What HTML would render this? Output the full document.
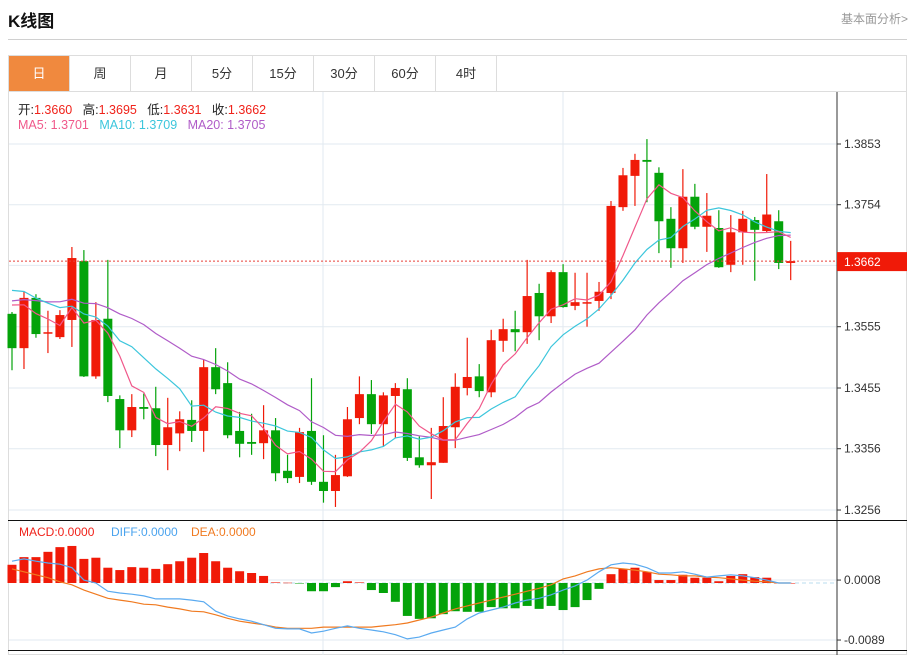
<!DOCTYPE html>
<html><head><meta charset="utf-8">
<style>
body{margin:0;width:920px;height:655px;overflow:hidden;background:#fff;font-family:"Liberation Sans","Noto Sans CJK SC",sans-serif;position:relative}
.title{position:absolute;left:8px;top:7px;font-size:17px;font-weight:bold;color:#111}
.more{position:absolute;right:12px;top:10px;font-size:12px;color:#999}
.hr{position:absolute;left:8px;top:39px;width:899px;height:1px;background:#d0d0d0}
.tabs{position:absolute;left:8px;top:55px;width:897px;height:35px;border:1px solid #ddd;display:flex}
.tab{width:60px;border-right:1px solid #ddd;text-align:center;line-height:35px;font-size:13px;color:#333}
.tab.on{background:#f0893e;color:#fff}
.info{position:absolute;left:18px;font-size:12.5px}
svg{position:absolute;left:0;top:0}
</style></head><body>
<div class="title">K线图</div>
<div class="more">基本面分析&gt;</div>
<div class="hr"></div>
<div class="tabs">
<div class="tab on">日</div>
<div class="tab">周</div>
<div class="tab">月</div>
<div class="tab">5分</div>
<div class="tab">15分</div>
<div class="tab">30分</div>
<div class="tab">60分</div>
<div class="tab">4时</div>
</div>
<svg id="chart" width="920" height="655"></svg>
<div class="info" style="top:99px"><span style="color:#222">开:</span><span style="color:#f0221a">1.3660</span>&nbsp;&nbsp; <span style="color:#222">高:</span><span style="color:#f0221a">1.3695</span>&nbsp;&nbsp; <span style="color:#222">低:</span><span style="color:#f0221a">1.3631</span>&nbsp;&nbsp; <span style="color:#222">收:</span><span style="color:#f0221a">1.3662</span></div>
<div class="info" style="top:118px"><span style="color:#f0588a">MA5: 1.3701</span>&nbsp;&nbsp; <span style="color:#3cc6dc">MA10: 1.3709</span>&nbsp;&nbsp; <span style="color:#b05cc8">MA20: 1.3705</span></div>
<script>
const opens=[1.3576,1.3520,1.3602,1.3545,1.3538,1.3566,1.3662,1.3474,1.3568,1.3437,1.3386,1.3424,1.3422,1.3362,1.3381,1.3403,1.3385,1.3489,1.3463,1.3385,1.3367,1.3365,1.3386,1.3320,1.3310,1.3385,1.3302,1.3287,1.3311,1.3406,1.3445,1.3396,1.3442,1.3453,1.3342,1.3329,1.3333,1.3391,1.3455,1.3474,1.3448,1.3532,1.3551,1.3546,1.3610,1.3572,1.3644,1.3589,1.3594,1.3597,1.3610,1.3750,1.3801,1.3827,1.3806,1.3731,1.3683,1.3767,1.3718,1.3716,1.3656,1.3709,1.3729,1.3711,1.3727,1.3659];
const highs=[1.3579,1.3612,1.3608,1.3581,1.3582,1.3685,1.3680,1.3595,1.3664,1.3443,1.3445,1.3446,1.3457,1.3439,1.3417,1.3435,1.3501,1.3520,1.3497,1.3416,1.3413,1.3427,1.3406,1.3346,1.3390,1.3471,1.3378,1.3346,1.3424,1.3474,1.3468,1.3448,1.3463,1.3471,1.3376,1.3390,1.3440,1.3479,1.3537,1.3494,1.3550,1.3568,1.3581,1.3664,1.3625,1.3647,1.3657,1.3643,1.3643,1.3628,1.3760,1.3814,1.3837,1.3861,1.3815,1.3750,1.3812,1.3788,1.3773,1.3745,1.3737,1.3744,1.3734,1.3804,1.3745,1.3695];
const lows=[1.3484,1.3486,1.3537,1.3512,1.3535,1.3522,1.3473,1.3470,1.3432,1.3357,1.3375,1.3404,1.3344,1.3321,1.3352,1.3367,1.3351,1.3445,1.3373,1.3342,1.3346,1.3339,1.3303,1.3300,1.3300,1.3297,1.3268,1.3261,1.3310,1.3396,1.3380,1.3359,1.3373,1.3336,1.3325,1.3274,1.3333,1.3357,1.3443,1.3440,1.3440,1.3514,1.3515,1.3527,1.3533,1.3561,1.3586,1.3582,1.3555,1.3581,1.3600,1.3744,1.3752,1.3758,1.3675,1.3651,1.3659,1.3714,1.3677,1.3651,1.3644,1.3656,1.3630,1.3708,1.3649,1.3631];
const closes=[1.3520,1.3602,1.3543,1.3546,1.3574,1.3667,1.3474,1.3566,1.3442,1.3386,1.3424,1.3421,1.3362,1.3391,1.3404,1.3385,1.3489,1.3453,1.3378,1.3364,1.3364,1.3386,1.3316,1.3308,1.3383,1.3302,1.3287,1.3313,1.3404,1.3445,1.3396,1.3443,1.3455,1.3341,1.3329,1.3334,1.3393,1.3457,1.3473,1.3450,1.3533,1.3551,1.3546,1.3605,1.3572,1.3644,1.3587,1.3595,1.3595,1.3612,1.3752,1.3802,1.3827,1.3824,1.3727,1.3683,1.3767,1.3718,1.3736,1.3652,1.3709,1.3731,1.3713,1.3738,1.3659,1.3662];
const priorCloses=[1.3560,1.3575,1.3590,1.3570,1.3585,1.3600,1.3580,1.3575,1.3590,1.3575,1.3620,1.3650,1.3630,1.3645,1.3645,1.3600,1.3615,1.3590,1.3627];
const priceTicks=[1.3853,1.3754,1.3655,1.3555,1.3455,1.3356,1.3256];
const priceTickLabels=["1.3853","1.3754","","1.3555","1.3455","1.3356","1.3256"];
const lastPrice=1.3662;
// MACD values in units of 1e-4
const macdHist=[31,44,44,53,61,63,41,43,26,22,27,26,24,32,37,43,51,37,26,20,17,12,1,0.5,-0.5,-14,-14,-7,3,1,-12,-17,-32,-56,-61,-60,-53,-48,-49,-49,-41,-43,-43,-39,-44,-39,-46,-41,-29,-10,15,24,26,19,5,5,14,9,9,3,12,15,10,9,0,0];
const diffLine=[37,41,37,34,32,26,5,0,-14,-17,-19,-22,-27,-27,-27,-29,-32,-48,-56,-61,-65,-71,-77,-78,-78,-85,-82,-77,-73,-77,-80,-83,-88,-95,-92,-85,-80,-75,-61,-51,-46,-41,-34,-29,-26,-20,-12,-5,5,19,31,34,32,26,17,17,19,15,10,12,14,12,9,5,0,0];
const deaLine=[24,19,14,9,2,-3,-12,-19,-26,-29,-32,-36,-37,-41,-44,-48,-49,-54,-60,-65,-68,-71,-75,-77,-77,-77,-75,-75,-75,-75,-75,-73,-71,-68,-63,-58,-51,-44,-39,-34,-29,-24,-19,-14,-9,-3,7,12,19,24,26,24,22,19,15,14,12,12,10,9,7,5,3,2,0,0];
const macdTicks=[5,-97];
const macdTickLabels=["0.0008","-0.0089"];

const NS="http://www.w3.org/2000/svg";
const svg=document.getElementById('chart');
function mk(tag,attrs,parent){const e=document.createElementNS(NS,tag);for(const k in attrs)e.setAttribute(k,attrs[k]);(parent||svg).appendChild(e);return e;}
const xOf=i=>12+i*11.98;
const yP=p=>144+(1.3853-p)*6131;
const yM=v=>583-v*0.588;
const AX=837;

// frame
let f=mk('rect',{x:8.5,y:91.5,width:898,height:563,fill:'none',stroke:'#ddd'});


// grids
priceTicks.forEach((p,k)=>{const y=yP(p);
 let g=mk('line',{x1:9,x2:AX,y1:y,y2:y,stroke:'#e2eaf0'});
 
 
 mk('line',{x1:AX,x2:AX+4,y1:y,y2:y,stroke:'#333'});
 if(priceTickLabels[k]){let t=mk('text',{x:AX+7,y:y+4,'font-size':12,fill:'#333'});t.textContent=priceTickLabels[k];
 
 }
});
[323,563].forEach(x=>{let g=mk('line',{x1:x,x2:x,y1:92,y2:655,stroke:'#e2eaf0'});
 
 });
macdTicks.forEach((v,k)=>{const y=yM(v);
 let g=mk('line',{x1:9,x2:AX,y1:y,y2:y,stroke:'#e2eaf0'});
 
 
 mk('line',{x1:AX,x2:AX+4,y1:y,y2:y,stroke:'#333'});
 let t=mk('text',{x:AX+7,y:y+4,'font-size':12,fill:'#333'});t.textContent=macdTickLabels[k];
 
 
});
// axes lines
mk('line',{x1:AX,x2:AX,y1:92,y2:655,stroke:'#333'});
let sep=mk('line',{x1:8,x2:907,y1:520.5,y2:520.5,stroke:'#111'});


mk('line',{x1:8,x2:907,y1:650.5,y2:650.5,stroke:'#111'});

// MA lines
const all=priorCloses.concat(closes);
function ma(n){return closes.map((c,i)=>{const j=i+priorCloses.length;let s=0;for(let k=j-n+1;k<=j;k++)s+=all[k];return s/n;});}
function line(vals,yf,color,name){const pts=vals.map((v,i)=>xOf(i).toFixed(1)+','+yf(v).toFixed(1)).join(' ');
 let l=mk('polyline',{points:pts,fill:'none',stroke:color,'stroke-width':1.2});
 
 }

// candles
const UP='#f01a08',DN='#04a30a';
closes.forEach((c,i)=>{const o=opens[i];const col=c>=o?UP:DN;const x=xOf(i);
 let g=mk('g',{});
 
 
 mk('line',{x1:x,x2:x,y1:yP(highs[i]),y2:yP(lows[i]),stroke:col,'stroke-width':1.2},g);
 const t=Math.min(yP(o),yP(c)),h=Math.max(1.5,Math.abs(yP(o)-yP(c)));
 mk('rect',{x:x-4.5,y:t,width:9,height:h,fill:col},g);
});
line(ma(20),yP,'#b05cc8','ma20-line');
line(ma(10),yP,'#3cc6dc','ma10-line');
line(ma(5),yP,'#f0588a','ma5-line');

// last price line
const ly=yP(lastPrice);
let lp=mk('line',{x1:9,x2:AX,y1:ly,y2:ly,stroke:'#e8403a','stroke-dasharray':'2,2'});


let lb=mk('rect',{x:AX,y:ly-9,width:70,height:19,fill:'#f01a08'});


let lt=mk('text',{x:AX+7,y:ly+5,'font-size':12,fill:'#fff'});lt.textContent=lastPrice.toFixed(4);



// MACD
let zl=mk('line',{x1:270,x2:AX,y1:yM(0),y2:yM(0),stroke:'#b8dcef','stroke-dasharray':'4,3'});


macdHist.forEach((v,i)=>{const x=xOf(i);const y0=yM(0),y1=yM(v);
 let r=mk('rect',{x:x-4.5,y:Math.min(y0,y1),width:9,height:Math.max(0.5,Math.abs(y1-y0)),fill:v>=0?UP:DN});
 
 
});
line(deaLine,yM,'#f07a20','dea-line');
line(diffLine,yM,'#5aaaf0','diff-line');

const leg=[['MACD:0.0000','#f0221a',19],['DIFF:0.0000','#4aa3ee',111],['DEA:0.0000','#f07a20',191]];
leg.forEach(l=>{let t=mk('text',{x:l[2],y:536,'font-size':12,fill:l[1]});t.textContent=l[0];
 
 });
</script>
</body></html>
